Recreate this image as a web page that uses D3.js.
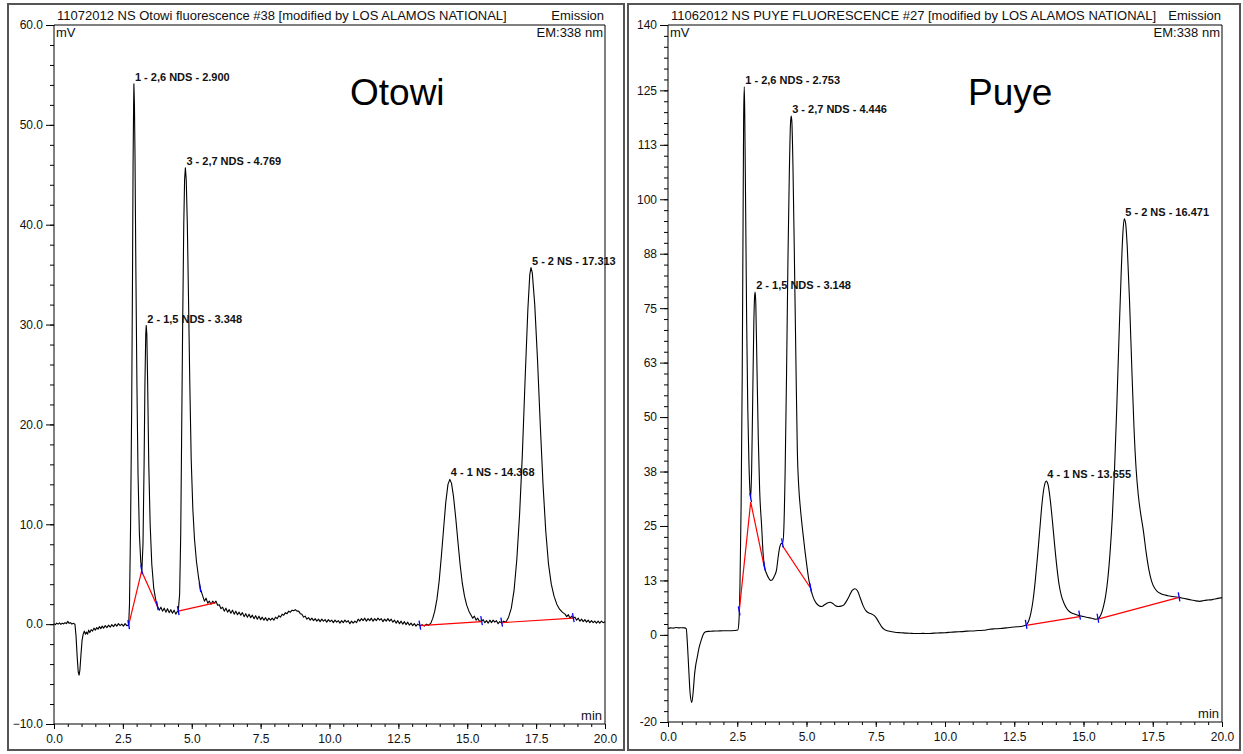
<!DOCTYPE html>
<html>
<head>
<meta charset="utf-8">
<script src="https://cdn.jsdelivr.net/npm/d3@7"></script>
<style>
  body { margin: 0; background: #fff; }
  svg { display: block; font-family: "Liberation Sans", Arial, sans-serif; }
  .axis text { font-size: 12px; fill: #111; }
  .axis path, .axis line { stroke: #000; }
  .hdr { font-size: 13px; fill: #111; }
  .peak { font-size: 11px; font-weight: bold; fill: #111; }
  .big { font-size: 37px; fill: #000; }
</style>
</head>
<body>
<div id="chart"></div>
<script>
// x ticks shared by both runs (minutes)
const xTicks = [0, 2.5, 5, 7.5, 10, 12.5, 15, 17.5, 20];
const otowiYTicks = [-10, 0, 10, 20, 30, 40, 50, 60];
const puyeYTicks = [-20, 0, 12.5, 25, 37.5, 50, 62.5, 75, 87.5, 100, 112.5, 125, 140];
const puyeYTickLabels = ["-20", "0", "13", "25", "38", "50", "63", "75", "88", "100", "113", "125", "140"];

// Otowi trace [min, mV]
const otowiTrace = [
  [0.00,0.05],[0.05,-0.05],[0.10,0.1],[0.15,0.0],[0.20,0.12],[0.25,-0.02],[0.30,0.10],[0.35,0.02],[0.40,0.15],[0.45,0.05],[0.50,0.28],
  [0.55,0.08],[0.60,0.15],[0.65,0.0],[0.70,0.08],[0.76,0.0],
  [0.80,-1.2],[0.84,-3.2],[0.88,-4.8],[0.91,-5.1],[0.94,-4.6],[0.98,-3.0],[1.02,-1.6],[1.06,-1.0],[1.10,-0.7],[1.14,-1.0],[1.18,-0.8],
  [1.22,-1.0],[1.26,-0.6],[1.30,-0.85],[1.35,-0.55],[1.40,-0.7],[1.45,-0.4],[1.50,-0.6],[1.55,-0.35],[1.60,-0.5],[1.65,-0.25],[1.70,-0.45],
  [1.75,-0.2],[1.80,-0.4],[1.86,-0.15],[1.92,-0.35],[1.98,-0.1],[2.04,-0.3],[2.10,-0.05],[2.16,-0.25],[2.22,0.0],[2.28,-0.2],[2.34,0.05],
  [2.40,-0.15],[2.46,0.0],[2.52,-0.2],[2.58,0.05],[2.64,-0.15],[2.71,-0.1],
  [2.74,2.0],[2.78,10],[2.82,22],[2.85,35],[2.87,46],[2.89,52],[2.90,54.1],[2.92,52],[2.94,47],[2.97,36],[3.01,24],[3.05,15],[3.10,9],[3.15,6.2],[3.19,5.4],
  [3.23,8],[3.27,16],[3.30,24],[3.33,29],[3.348,29.9],[3.37,29],[3.40,24],[3.44,16],[3.49,10],[3.55,6],[3.62,3.6],[3.70,2.3],[3.76,1.8],
  [3.82,1.4],[3.88,1.7],[3.94,1.3],[4.00,1.6],[4.06,1.2],[4.12,1.55],[4.18,1.15],[4.24,1.45],[4.30,1.1],[4.36,1.4],[4.42,1.0],[4.47,1.25],[4.51,1.3],
  [4.56,3],[4.60,9],[4.63,18],[4.67,30],[4.71,40],[4.74,44.5],[4.769,45.7],[4.80,44.5],[4.84,40],[4.88,33],[4.93,24],[4.98,16.5],[5.04,11.5],
  [5.10,8.5],[5.17,6.3],[5.25,4.6],[5.32,3.5],[5.40,2.8],[5.46,2.3],[5.52,2.6],[5.58,2.1],[5.64,2.3],[5.70,2.0],[5.76,2.3],[5.82,2.1],
  [5.88,2.3],[5.94,1.9],[6.00,1.95],[6.06,1.55],[6.12,1.7],[6.18,1.3],[6.24,1.6],[6.30,1.2],[6.36,1.45],[6.42,1.1],[6.48,1.4],[6.54,1.0],
  [6.60,1.3],[6.66,0.95],[6.72,1.2],[6.78,0.9],[6.84,1.15],[6.90,0.75],[6.96,1.05],[7.02,0.7],[7.08,1.0],[7.14,0.65],[7.20,0.9],[7.26,0.55],
  [7.32,0.85],[7.38,0.5],[7.44,0.8],[7.50,0.45],[7.56,0.7],[7.62,0.4],[7.68,0.65],[7.74,0.35],[7.80,0.6],[7.86,0.4],[7.92,0.6],[7.98,0.4],
  [8.04,0.7],[8.10,0.55],[8.16,0.85],[8.22,0.7],[8.28,1.0],[8.34,0.9],[8.40,1.15],[8.46,1.05],[8.52,1.3],[8.58,1.2],[8.64,1.4],[8.70,1.35],
  [8.76,1.45],[8.82,1.3],[8.88,1.3],[8.94,1.05],[9.00,1.0],[9.06,0.7],[9.12,0.8],[9.18,0.5],[9.24,0.65],[9.30,0.4],[9.36,0.6],[9.42,0.35],
  [9.48,0.55],[9.54,0.3],[9.60,0.5],[9.66,0.25],[9.72,0.5],[9.78,0.3],[9.84,0.45],[9.90,0.2],[9.96,0.45],[10.02,0.25],[10.08,0.4],[10.14,0.15],
  [10.20,0.4],[10.26,0.2],[10.32,0.35],[10.38,0.1],[10.44,0.35],[10.50,0.15],[10.56,0.4],[10.62,0.2],[10.68,0.35],[10.74,0.05],[10.80,0.3],
  [10.86,0.1],[10.92,0.3],[10.98,0.15],[11.04,0.5],[11.10,0.3],[11.16,0.55],[11.22,0.35],[11.28,0.6],[11.34,0.3],[11.40,0.55],[11.46,0.35],
  [11.52,0.6],[11.58,0.3],[11.64,0.55],[11.70,0.35],[11.76,0.6],[11.82,0.4],[11.88,0.55],[11.94,0.25],[12.00,0.5],[12.06,0.3],[12.12,0.55],
  [12.18,0.3],[12.24,0.5],[12.30,0.2],[12.36,0.4],[12.42,0.1],[12.48,0.35],[12.54,0.05],[12.60,0.3],[12.66,0.0],[12.72,0.25],[12.78,-0.05],
  [12.84,0.2],[12.90,-0.1],[12.96,0.1],[13.02,-0.15],[13.08,0.05],[13.14,-0.2],[13.20,0.0],[13.28,-0.15],[13.36,-0.05],[13.44,-0.2],
  [13.52,0.0],[13.60,-0.1],[13.68,0.1],
  [13.75,0.6],[13.82,1.3],[13.90,2.5],[13.98,4.3],[14.06,6.8],[14.14,9.5],[14.22,12.2],[14.30,14.0],[14.368,14.5],[14.43,14.1],[14.50,12.8],
  [14.58,10.7],[14.66,8.3],[14.74,6.0],[14.82,4.1],[14.90,2.8],[14.98,1.9],[15.06,1.3],[15.14,0.9],[15.20,0.6],[15.26,0.8],[15.32,0.4],
  [15.38,0.6],[15.44,0.3],[15.52,0.3],[15.58,0.45],[15.64,0.15],[15.70,0.35],[15.76,0.1],[15.82,0.4],[15.88,0.15],[15.94,0.4],[16.00,0.2],
  [16.06,0.35],[16.12,0.05],[16.18,0.25],[16.25,0.1],[16.32,0.3],[16.40,0.2],
  [16.50,0.7],[16.60,1.6],[16.70,3.4],[16.80,6.5],[16.90,11],[17.00,17],[17.10,24.5],[17.20,31.5],[17.27,35],[17.313,35.7],[17.36,35.2],
  [17.45,32],[17.55,26.5],[17.65,20],[17.75,14],[17.85,9.3],[17.95,6],[18.05,4.0],[18.15,2.8],[18.25,2.0],[18.35,1.5],[18.45,1.2],[18.55,1.0],
  [18.61,0.75],[18.67,0.95],[18.73,0.6],[18.79,0.8],[18.85,0.6],[18.91,0.7],[18.97,0.4],[19.03,0.6],[19.09,0.3],[19.15,0.5],[19.21,0.25],
  [19.27,0.45],[19.33,0.2],[19.39,0.4],[19.45,0.15],[19.51,0.35],[19.57,0.15],[19.63,0.3],[19.69,0.1],[19.75,0.3],[19.81,0.1],[19.87,0.3],
  [19.93,0.15],[20.0,0.25]
];

// Puye trace [min, mV]
const puyeTrace = [
  [0.00,1.5],[0.10,1.6],[0.20,1.55],[0.30,1.7],[0.40,1.6],[0.50,1.65],[0.60,1.6],[0.66,1.4],
  [0.70,-2],[0.75,-8],[0.80,-13.5],[0.86,-15.5],[0.91,-13],[0.96,-9],[1.00,-7],[1.06,-5],[1.12,-3],[1.20,-1.2],[1.28,0.2],[1.36,0.7],
  [1.45,0.8],[1.60,0.85],[1.80,0.9],[2.00,0.95],[2.20,0.95],[2.40,1.0],[2.52,1.1],
  [2.56,3],[2.60,12],[2.64,30],[2.68,60],[2.71,95],[2.73,118],[2.753,125.8],[2.77,120],[2.80,100],[2.84,72],[2.88,52],[2.92,40],[2.96,33],[2.985,31.4],
  [3.02,38],[3.06,55],[3.10,72],[3.13,78],[3.148,78.7],[3.17,76],[3.21,62],[3.26,45],[3.31,33],[3.38,25],[3.43,19],[3.48,15.7],[3.55,14.2],
  [3.62,13.2],[3.70,12.5],[3.76,12.6],[3.84,13.5],[3.92,15],[3.98,18],[4.04,20.3],[4.10,21],[4.14,21],
  [4.18,24],[4.23,38],[4.28,60],[4.33,86],[4.38,106],[4.42,117],[4.446,119.1],[4.47,118],[4.51,108],[4.56,88],[4.62,62],[4.67,42],
  [4.72,34],[4.78,29],[4.86,24],[4.95,19],[5.02,15.5],[5.08,12.8],[5.15,10.7],[5.25,8.5],[5.35,7.3],[5.45,6.7],[5.55,6.5],[5.65,6.9],
  [5.75,7.3],[5.85,7.5],[5.95,7.2],[6.05,6.7],[6.15,6.5],[6.25,6.6],[6.35,6.9],[6.45,7.8],[6.55,9.0],[6.65,10.2],[6.75,10.6],[6.85,10.0],
  [6.95,8.3],[7.05,6.6],[7.15,5.5],[7.25,5.0],[7.35,4.8],[7.45,4.4],[7.53,3.8],[7.62,2.8],[7.72,1.8],[7.82,1.2],[7.95,0.9],[8.10,0.7],
  [8.25,0.55],[8.40,0.5],[8.60,0.4],[8.80,0.35],[9.00,0.3],[9.20,0.35],[9.40,0.3],[9.60,0.4],[9.80,0.45],[10.00,0.5],[10.20,0.6],[10.40,0.7],
  [10.60,0.75],[10.80,0.85],[11.00,0.9],[11.20,1.0],[11.40,1.05],[11.60,1.3],[11.80,1.4],[12.00,1.45],[12.20,1.6],[12.40,1.75],[12.60,1.85],
  [12.80,2.0],[12.93,2.3],
  [13.02,3.2],[13.10,5],[13.18,8],[13.26,12.5],[13.34,18],[13.42,24],[13.50,30],[13.58,34],[13.655,35.3],[13.72,34.5],[13.80,31],[13.88,26],
  [13.96,20.5],[14.04,15.5],[14.12,11.5],[14.20,9],[14.30,7.2],[14.40,6.0],[14.50,5.3],[14.62,4.9],[14.75,4.6],[14.86,4.4],[15.00,4.2],
  [15.15,4.0],[15.30,3.8],[15.45,3.6],[15.52,3.7],
  [15.62,4.5],[15.72,6.5],[15.80,9],[15.88,13],[15.96,19],[16.04,27],[16.12,38],[16.20,52],[16.28,68],[16.36,83],[16.42,92],[16.471,95.5],
  [16.52,94.5],[16.58,89],[16.66,77],[16.74,62],[16.82,48],[16.90,38],[16.98,32],[17.06,28],[17.16,24],[17.26,19],[17.36,15],[17.46,12.3],
  [17.56,10.8],[17.66,10],[17.78,9.5],[17.90,9.2],[18.05,9.0],[18.20,8.8],[18.35,8.7],[18.45,8.6],[18.60,8.4],[18.75,8.2],[18.90,8.0],
  [19.05,7.8],[19.20,7.7],[19.35,7.9],[19.50,8.0],[19.65,8.1],[19.80,8.3],[19.95,8.5],[20.0,8.5]
];

// peak apex [min, mV, label]
const otowiPeaks = [
  [2.900, 54.1, "1 - 2,6 NDS - 2.900"],
  [3.348, 29.9, "2 - 1,5 NDS - 3.348"],
  [4.769, 45.7, "3 - 2,7 NDS - 4.769"],
  [14.368, 14.5, "4 - 1 NS - 14.368"],
  [17.313, 35.7, "5 - 2 NS - 17.313"]
];
const puyePeaks = [
  [2.753, 125.8, "1 - 2,6 NDS - 2.753"],
  [3.148, 78.7, "2 - 1,5 NDS - 3.148"],
  [4.446, 119.1, "3 - 2,7 NDS - 4.446"],
  [13.655, 35.3, "4 - 1 NS - 13.655"],
  [16.471, 95.5, "5 - 2 NS - 16.471"]
];

// integration baselines (red) and peak start/end marks (blue)
const otowiBaselines = [
  [[2.71,-0.1],[3.18,5.3],[3.75,1.8]],
  [[4.51,1.3],[5.88,2.15]],
  [[13.28,-0.15],[15.52,0.25]],
  [[16.25,0.15],[18.85,0.6]]
];
const otowiMarks = [[2.71,-0.1],[3.18,5.4],[3.75,1.8],[4.51,1.3],[5.30,3.6],[13.28,-0.15],[15.52,0.3],[16.25,0.15],[18.85,0.6]];

const puyeBaselines = [
  [[2.57,5.4],[2.985,30.5],[3.48,15.5]],
  [[4.13,20.5],[5.15,10.7]],
  [[12.93,2.2],[14.86,4.2]],
  [[15.52,3.6],[18.45,8.6]]
];
const puyeMarks = [[2.57,5.4],[2.985,31.4],[3.48,15.7],[4.13,21],[5.15,10.7],[12.93,2.3],[14.86,4.4],[15.52,3.7],[18.45,8.6]];

const svg = d3.select("#chart").append("svg")
  .attr("width", 1243)
  .attr("height", 754);

function drawPanel(p) {
  const g = svg.append("g");

  // outer frame of the panel
  g.append("rect")
    .attr("x", p.box[0]).attr("y", p.box[1])
    .attr("width", p.box[2]).attr("height", p.box[3])
    .attr("fill", "none").attr("stroke", "#555").attr("stroke-width", 2);

  const x = d3.scaleLinear().domain([0, 20]).range([p.left, p.right]);
  const y = d3.scaleLinear().domain(p.yDomain).range([p.bottom, p.top]);

  // plot frame top / right
  g.append("path")
    .attr("d", `M${p.left},${p.top}H${p.right}V${p.bottom}`)
    .attr("fill", "none").attr("stroke", "#000");

  // minor ticks
  g.append("g").attr("class", "axis")
    .attr("transform", `translate(0,${p.bottom})`)
    .call(d3.axisBottom(x).tickValues(d3.range(0, 20.01, 0.5)).tickSize(3).tickFormat(""))
    .call(a => a.select(".domain").remove());
  g.append("g").attr("class", "axis")
    .attr("transform", `translate(${p.left},0)`)
    .call(d3.axisLeft(y).tickValues(d3.range(p.yDomain[0], p.yDomain[1] + 0.01, p.yMinor)).tickSize(4).tickFormat(""))
    .call(a => a.select(".domain").remove());

  // major axes
  g.append("g").attr("class", "axis")
    .attr("transform", `translate(0,${p.bottom})`)
    .call(d3.axisBottom(x).tickValues(xTicks).tickSize(5).tickPadding(5).tickFormat(d3.format(".1f")))
    .call(a => a.select(".domain").attr("d", `M${p.left},0H${p.right}`));
  g.append("g").attr("class", "axis")
    .attr("transform", `translate(${p.left},0)`)
    .call(d3.axisLeft(y).tickValues(p.yTicks).tickSize(8).tickPadding(3).tickFormat(p.yFormat))
    .call(a => a.select(".domain").attr("d", `M0,${p.top}V${p.bottom}`));

  // header texts
  g.append("text").attr("class", "hdr").attr("x", p.left + 3).attr("y", p.top - 5).text(p.title);
  g.append("text").attr("class", "hdr").attr("x", p.right - 1).attr("y", p.top - 5).attr("text-anchor", "end").text("Emission");
  g.append("text").attr("class", "hdr").attr("x", p.left + 2).attr("y", p.top + 12).text("mV");
  g.append("text").attr("class", "hdr").attr("x", p.right - 2).attr("y", p.top + 12).attr("text-anchor", "end").text("EM:338 nm");
  g.append("text").attr("class", "hdr").attr("x", p.right - 3).attr("y", p.bottom - 4).attr("text-anchor", "end").text("min");

  // trace
  const line = d3.line().x(d => x(d[0])).y(d => y(d[1])).curve(p.curve);
  g.append("path").datum(p.trace)
    .attr("d", line)
    .attr("fill", "none").attr("stroke", "#000").attr("stroke-width", 1.1)
    .attr("stroke-linejoin", "round");

  // baselines
  const straight = d3.line().x(d => x(d[0])).y(d => y(d[1]));
  g.selectAll(".base").data(p.baselines).join("path")
    .attr("class", "base")
    .attr("d", straight)
    .attr("fill", "none").attr("stroke", "#f00").attr("stroke-width", 1.2);

  // start / end marks
  g.selectAll(".mark").data(p.marks).join("line")
    .attr("class", "mark")
    .attr("x1", d => x(d[0]) - 0.8).attr("x2", d => x(d[0]) + 0.8)
    .attr("y1", d => y(d[1]) - 5).attr("y2", d => y(d[1]) + 4)
    .attr("stroke", "#00f").attr("stroke-width", 1.3);

  // peak labels
  g.selectAll(".peak").data(p.peaks).join("text")
    .attr("class", "peak")
    .attr("x", d => x(d[0]) + 1)
    .attr("y", d => y(d[1]) - 3)
    .text(d => d[2]);

  g.append("text").attr("class", "big").attr("x", p.nameX).attr("y", 105).text(p.name);
}

drawPanel({
  box: [8, 4, 616, 746],
  left: 54, right: 605, top: 25, bottom: 724,
  yDomain: [-10, 60], yMinor: 2,
  yTicks: otowiYTicks, yFormat: d3.format(".1f"),
  title: "11072012 NS Otowi fluorescence #38 [modified by LOS ALAMOS NATIONAL]",
  trace: otowiTrace, curve: d3.curveLinear,
  peaks: otowiPeaks, baselines: otowiBaselines, marks: otowiMarks,
  name: "Otowi", nameX: 350
});

drawPanel({
  box: [628, 4, 612, 746],
  left: 668, right: 1222, top: 25, bottom: 722,
  yDomain: [-20, 140], yMinor: 2.5,
  yTicks: puyeYTicks, yFormat: d => puyeYTickLabels[puyeYTicks.indexOf(d)],
  title: "11062012 NS PUYE FLUORESCENCE #27 [modified by LOS ALAMOS NATIONAL]",
  trace: puyeTrace, curve: d3.curveMonotoneX,
  peaks: puyePeaks, baselines: puyeBaselines, marks: puyeMarks,
  name: "Puye", nameX: 968
});
</script>
</body>
</html>
